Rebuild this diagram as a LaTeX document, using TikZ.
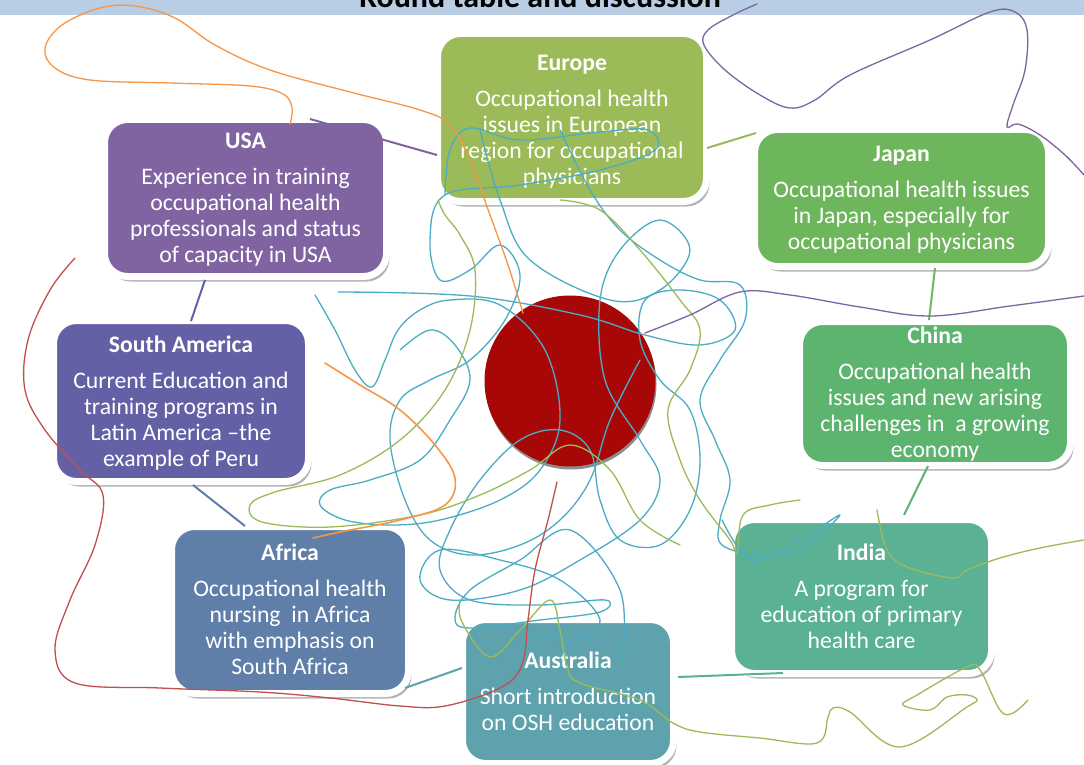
\documentclass[tikz,border=0pt]{standalone}
\usepackage{fontspec}
\setmainfont{Carlito}
\usetikzlibrary{shadows}
\definecolor{barblue}{HTML}{B9CDE5}
\definecolor{cEurope}{HTML}{9BBB59}
\definecolor{cJapan}{HTML}{6EB65C}
\definecolor{cChina}{HTML}{5DB46F}
\definecolor{cIndia}{HTML}{5BB193}
\definecolor{cAustralia}{HTML}{5DA2AC}
\definecolor{cAfrica}{HTML}{5F7FA8}
\definecolor{cSA}{HTML}{6360A5}
\definecolor{cUSA}{HTML}{8064A2}
\definecolor{hubred}{HTML}{A80707}
\definecolor{sBlue}{HTML}{4BACC6}
\definecolor{sGreen}{HTML}{9BBB59}
\definecolor{sOrange}{HTML}{F79646}
\definecolor{sPurple}{HTML}{8064A2}
\definecolor{sRed}{HTML}{C0504D}
\begin{document}
\begin{tikzpicture}[x=1pt,y=-1pt,
  box/.style={rectangle, rounded corners=23pt, draw=white, line width=7pt, fill=#1,
    drop shadow={shadow xshift=3pt, shadow yshift=-5pt, opacity=0.3, fill=black}},
  boxtext/.style={text=white, align=center, inner sep=0pt, font=\fontsize{23.7}{26}\selectfont},
  link/.style={line width=2pt, draw=#1},
  scr/.style={line width=1.3pt, line cap=round, line join=round},
]
\useasboundingbox (0,0) rectangle (1084,765);
\fill[white] (0,0) rectangle (1084,765);
\fill[barblue] (0,0) rectangle (1084,15);
\node[anchor=base, inner sep=0pt, font=\bfseries\fontsize{32}{36}\selectfont] (title) at (540,7.5) {Round table and discussion};

% hub
\fill[black!45] (571,384) circle (85.5);
\node[circle, fill=hubred, minimum size=171pt, inner sep=0pt] (hub) at (570,381) {};

% boxes
\node[box=cEurope, minimum width=269pt, minimum height=168pt] (europe) at (572,117.5) {};
\node[box=cUSA, minimum width=282pt, minimum height=157pt] (usa) at (245.5,198) {};
\node[box=cSA, minimum width=255pt, minimum height=161pt] (sa) at (181,401) {};
\node[box=cAfrica, minimum width=237pt, minimum height=167pt] (africa) at (290,610) {};
\node[box=cAustralia, minimum width=211pt, minimum height=144pt] (australia) at (568,691.5) {};
\node[box=cJapan, minimum width=294pt, minimum height=137pt] (japan) at (901.5,198) {};
\node[box=cChina, minimum width=271pt, minimum height=144pt] (china) at (935,393.5) {};
\node[box=cIndia, minimum width=260pt, minimum height=154pt] (india) at (861.5,596.5) {};

\node[boxtext] (europeT) at ([yshift=-4pt]europe.center) {\textbf{Europe}\\[10pt]Occupational health\\issues in European\\region for occupational\\physicians};
\node[boxtext] (usaT) at ([yshift=-2pt]usa.center) {\textbf{USA}\\[10pt]Experience in training\\occupational health\\professionals and status\\of capacity in USA};
\node[boxtext] (saT) at ([yshift=-2pt]sa.center) {\textbf{South America}\\[10pt]Current Education and\\training programs in\\Latin America –the\\example of Peru};
\node[boxtext] (africaT) at ([yshift=1pt]africa.center) {\textbf{Africa}\\[10pt]Occupational health\\nursing\ \ in Africa\\with emphasis on\\South Africa};
\node[boxtext] (australiaT) at (australia.center) {\textbf{Australia}\\[10pt]Short introduction\\on OSH education};
\node[boxtext] (japanT) at ([yshift=-2pt]japan.center) {\textbf{Japan}\\[10pt]Occupational health issues\\in Japan, especially for\\occupational physicians};
\node[boxtext] (chinaT) at ([yshift=-1pt]china.center) {\textbf{China}\\[10pt]Occupational health\\issues and new arising\\challenges in\ \ a growing\\economy};
\node[boxtext] (indiaT) at (india.center) {\textbf{India}\\[10pt]A program for\\education of primary\\health care};

% connectors
\draw[link=cUSA] ([shift={(64.5,-79)}]usa.center) -- ([shift={(-135,37.5)}]europe.center);
\draw[link=cEurope] ([shift={(135,30.5)}]europe.center) -- ([shift={(-145.5,-65)}]japan.center);
\draw[link=cJapan] ([shift={(33.5,70)}]japan.center) -- ([shift={(-6,-73.5)}]china.center);
\draw[link=cChina] ([shift={(-7,72.5)}]china.center) -- ([shift={(42.5,-81.5)}]india.center);
\draw[link=cIndia] ([shift={(-78.5,76.5)}]india.center) -- ([shift={(110,-14.5)}]australia.center);
\draw[link=cAustralia] ([shift={(-106,-23.5)}]australia.center) -- ([shift={(115,78)}]africa.center);
\draw[link=cAfrica] ([shift={(-45,-84)}]africa.center) -- ([shift={(12,84)}]sa.center);
\draw[link=cSA] ([shift={(10,-80)}]sa.center) -- ([shift={(-40.5,82)}]usa.center);

% scribbles
\draw[scr, sBlue] plot[smooth, tension=0.6] coordinates {(338,292) (470,296) (580,315) (645,335) (700,345) (735,330) (720,300) (680,290) (645,300) (640,340) (660,380) (690,410) (700,460) (690,510) (660,545) (620,540) (600,500) (590,450) (560,430) (520,440) (480,480) (450,530) (440,570) (470,600) (540,605) (605,600) (600,612) (540,620) (470,628) (455,618) (470,590) (520,560) (570,530) (620,590) (622,660)};
\draw[scr, sBlue] plot[smooth, tension=0.6] coordinates {(445,195) (450,150) (470,128) (520,140) (600,132) (648,130) (655,150) (600,170) (520,185) (445,195) (430,240) (440,280) (470,270) (500,245) (520,275) (505,320) (470,360) (430,380) (400,400) (390,440) (405,500) (430,540) (470,555) (520,545) (560,520) (590,480) (610,420) (640,360)};
\draw[scr, sBlue] plot[smooth, tension=0.6] coordinates {(315,295) (335,330) (355,370) (372,387) (385,360) (398,330) (420,310) (450,300) (500,305) (545,350) (560,420) (540,470) (500,500) (440,520) (390,525) (345,520) (320,505) (330,490) (370,480) (420,460) (450,420) (470,380) (455,345) (430,330) (400,350)};
\draw[scr, sBlue] plot[smooth, tension=0.6] coordinates {(560,130) (590,190) (620,230) (660,260) (700,280) (740,285) (745,320) (720,360) (700,400) (715,440) (730,480) (720,520) (722,545) (760,555) (800,550) (840,515) (800,540) (760,560) (740,550) (722,520)};
\draw[scr, sBlue] plot[smooth, tension=0.6] coordinates {(480,130) (500,200) (530,260) (610,300) (660,290) (690,250) (660,220) (620,250) (600,300) (605,380) (640,440) (660,480) (640,520) (580,560) (520,590) (450,600) (420,580) (440,550) (500,560) (560,580) (600,620) (570,640) (520,630)};
\draw[scr, sGreen] plot[smooth, tension=0.6] coordinates {(438,200) (445,215) (460,235) (475,270) (470,330) (445,390) (400,440) (340,475) (275,492) (250,505) (262,522) (330,527) (420,515) (480,495) (530,470) (570,445) (610,470) (640,520) (680,545)};
\draw[scr, sGreen] plot[smooth, tension=0.6] coordinates {(560,200) (600,210) (640,250) (680,300) (700,330) (690,370) (668,410) (680,460) (700,500) (730,540) (737,553) (743,515) (770,505) (800,500)};
\draw[scr, sGreen] plot[smooth, tension=0.6] coordinates {(460,600) (462,622) (490,657) (520,630) (550,600) (560,630) (567,667) (580,683) (640,700) (673,723) (700,732) (760,738) (817,743) (828,717) (833,708) (850,712) (900,747) (967,707) (977,700) (967,695) (947,697) (930,710) (903,705) (917,695) (967,667) (980,670) (1000,710) (1013,713) (1028,700)};
\draw[scr, sGreen] plot[smooth, tension=0.6] coordinates {(877,510) (887,550) (907,567) (953,578) (967,570) (1000,558) (1040,548) (1084,540)};
\draw[scr, sOrange] plot[smooth, tension=0.6] coordinates {(290,124) (292,108) (283,94) (250,86) (170,83) (90,80) (55,68) (45,48) (62,25) (100,8) (135,6) (175,18) (215,45) (270,70) (350,92) (420,110) (450,125) (470,160) (490,215) (508,265) (523,313)};
\draw[scr, sOrange, line width=1.6pt] plot[smooth, tension=0.6] coordinates {(325,363) (360,385) (400,410) (435,445) (455,478) (445,505) (400,520) (345,531) (313,538)};
\draw[scr, sRed] plot[smooth, tension=0.6] coordinates {(75,258) (50,290) (28,340) (25,390) (45,430) (80,470) (103,495) (95,545) (70,600) (55,650) (75,683) (160,688) (260,692) (330,698) (400,706) (445,706) (500,688) (522,665) (528,620) (535,570) (548,520) (557,482)};
\draw[scr, sPurple] plot[smooth, tension=0.6] coordinates {(757,4) (733,15) (708,30) (704,45) (725,70) (760,95) (790,108) (815,100) (850,75) (930,40) (990,12) (1015,12) (1027,30) (1025,70) (1013,105) (1007,127) (1018,124) (1040,135) (1065,155) (1084,175)};
\draw[scr, sPurple] plot[smooth, tension=0.6] coordinates {(645,333) (690,315) (740,292) (790,295) (860,307) (930,316) (1010,306) (1084,296)};
\end{tikzpicture}
\end{document}
